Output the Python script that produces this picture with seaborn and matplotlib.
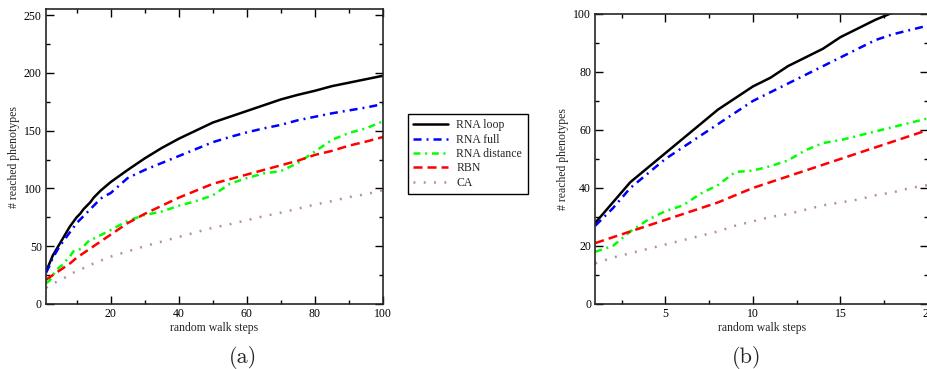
import numpy as np
import pandas as pd
import matplotlib
matplotlib.use("Agg")
import matplotlib.pyplot as plt
import seaborn as sns
from matplotlib.ticker import MultipleLocator

# values: first 20 steps (panel b) and every 5 steps after
steps_short = list(range(1, 21))
loop_short = [28, 35, 42, 47, 52, 57, 62, 67, 71, 75, 78, 82, 85, 88, 92, 95, 98, 100.5, 103, 105.5]
full_short = [27, 33, 40, 45, 50, 54, 58, 62, 66, 70, 73, 76, 79, 82, 85, 88, 91, 93, 94.5, 96]
dist_short = [18, 20, 25, 29, 32, 34, 38, 41, 45.5, 46, 47.5, 49.5, 53, 55.5, 56.5, 58, 59.5, 61, 62.5, 64]
rbn_short = [21, 23, 25, 27, 29, 31, 33, 35, 37.5, 40, 42, 44, 46, 48, 50, 52, 54, 56, 58, 60]
ca_short = [14, 16, 17.5, 19, 20.5, 22, 23.5, 25, 27, 28.5, 30, 31, 32.5, 34, 35, 36, 37.5, 38.5, 40, 41]

steps_long = [25, 30, 35, 40, 45, 50, 55, 60, 65, 70, 75, 80, 85, 90, 95, 100]
loop_long = [116, 126, 135, 143, 150, 157, 162, 167, 172, 177, 181, 184.5, 188.5, 191.5, 194.5, 197.5]
full_long = [109, 116, 122, 128, 134, 140, 144.5, 148.5, 152, 155, 159, 162, 165, 167.5, 170, 173]
dist_long = [72, 77, 80, 85, 89, 94, 104, 109, 113, 115, 122, 132, 142, 148, 152, 158]
rbn_long = [70, 78, 85, 92, 98, 104, 108, 112, 116, 120, 124, 129, 132.5, 137, 140.5, 144.5]
ca_long = [45.5, 50, 54, 58, 62, 66, 69, 72.5, 76, 79, 82.5, 86, 89, 92.5, 95, 98.5]

models = ["RNA loop", "RNA full", "RNA distance", "RBN", "CA"]
colors = {"RNA loop": "black", "RNA full": "#0000ff", "RNA distance": "#00ff00",
          "RBN": "#ff0000", "CA": "#bc8f8f"}
dashes = {"RNA loop": "", "RNA full": (5.8, 3.6, 1.4, 3.6), "RNA distance": (5.0, 3.4, 1.4, 3.4),
          "RBN": (6.5, 3.6), "CA": (1.4, 6.0)}

short = {"RNA loop": loop_short, "RNA full": full_short, "RNA distance": dist_short,
         "RBN": rbn_short, "CA": ca_short}
long_ = {"RNA loop": loop_long, "RNA full": full_long, "RNA distance": dist_long,
         "RBN": rbn_long, "CA": ca_long}

rows_a, rows_b = [], []
for m in models:
    for s, v in zip(steps_short + steps_long, short[m] + long_[m]):
        rows_a.append((m, s, v))
    for s, v in zip(steps_short, short[m]):
        rows_b.append((m, s, v))
df_a = pd.DataFrame(rows_a, columns=["model", "step", "count"])
df_b = pd.DataFrame(rows_b, columns=["model", "step", "count"])

sns.set_style("ticks")
plt.rcParams["font.family"] = ["Liberation Serif", "DejaVu Serif"]
plt.rcParams["lines.scale_dashes"] = False
plt.rcParams["font.size"] = 8.5

fig = plt.figure(figsize=(9.28, 3.69), dpi=100)
ax1 = fig.add_axes([0.0496, 0.1762, 0.3631, 0.7986])
ax2 = fig.add_axes([0.6415, 0.1762, 0.3585, 0.786])

for ax, df in [(ax1, df_a), (ax2, df_b)]:
    sns.lineplot(data=df, x="step", y="count", hue="model", style="model",
                 hue_order=models, style_order=models, palette=colors,
                 dashes=dashes, linewidth=1.8, ax=ax, legend=(ax is ax1))
    ax.set_xlabel("random walk steps", fontsize=8.5, labelpad=1)
    ax.set_ylabel("# reached phenotypes", fontsize=8.5, labelpad=3)
    ax.tick_params(which="both", direction="in", top=True, right=True,
                   labelsize=8.5, width=1, pad=3, colors="black")
    ax.tick_params(which="major", length=6)
    ax.tick_params(which="minor", length=3)
    for sp in ax.spines.values():
        sp.set_linewidth(1.2)
        sp.set_visible(True)

ax1.set_xlim(1, 100)
ax1.set_ylim(0, 255)
ax1.xaxis.set_major_locator(MultipleLocator(20))
ax1.xaxis.set_minor_locator(MultipleLocator(10))
ax1.yaxis.set_major_locator(MultipleLocator(50))
ax1.yaxis.set_minor_locator(MultipleLocator(25))

ax2.set_xlim(1, 20)
ax2.set_ylim(0, 100)
ax2.xaxis.set_major_locator(MultipleLocator(5))
ax2.xaxis.set_minor_locator(MultipleLocator(2.5))
ax2.yaxis.set_major_locator(MultipleLocator(20))
ax2.yaxis.set_minor_locator(MultipleLocator(10))

handles, labels = ax1.get_legend_handles_labels()
ax1.get_legend().remove()
leg = fig.legend(handles, labels, loc="upper left", bbox_to_anchor=(0.4397, 0.691),
                 borderaxespad=0, fancybox=False, edgecolor="black", framealpha=1,
                 fontsize=8.5, handlelength=2.9, handletextpad=0.75,
                 labelspacing=0.2, borderpad=0.45)
leg.get_frame().set_linewidth(1.0)

fig.text(0.262, 0.032, "(a)", fontsize=16, family="cmr10", ha="center", va="center")
fig.text(0.805, 0.032, "(b)", fontsize=16, family="cmr10", ha="center", va="center")

fig.savefig("out.png", dpi=100)
